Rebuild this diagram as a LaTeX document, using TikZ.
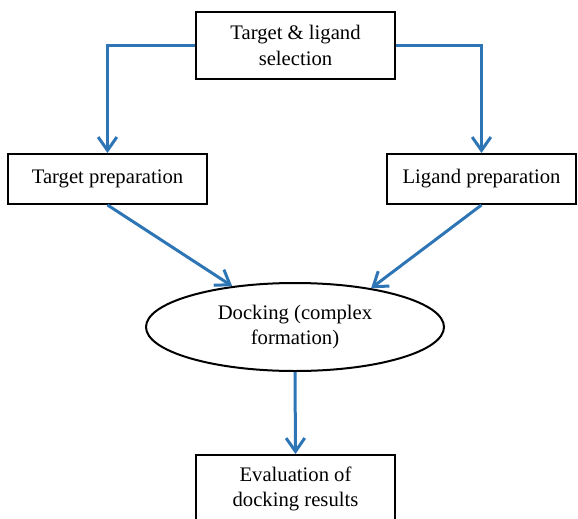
\documentclass[tikz,border=0pt]{standalone}
\usepackage{fontspec}
\setmainfont{Liberation Serif}
\usetikzlibrary{shapes.geometric,arrows.meta}
\definecolor{flowblue}{RGB}{46,117,182}

\begin{document}
\begin{tikzpicture}[x=0.75pt,y=-0.75pt,
  stagebox/.style={draw=black,line width=1.5pt,fill=white,inner sep=0pt,align=center,
    font=\fontsize{15.5}{19}\selectfont},
  dockellipse/.style={ellipse,draw=black,line width=1.5pt,fill=white,inner sep=0pt,align=center,
    minimum width=223.5pt,minimum height=66pt,font=\fontsize{15.5}{19}\selectfont},
  flow/.style={draw=flowblue,line width=2.25pt,-{Straight Barb[length=10pt,width=14pt]}}]
\useasboundingbox (0,0) rectangle (578,518);
\clip (0,0) rectangle (578,518);

\node[stagebox,minimum width=149.25pt,minimum height=50.25pt] (sel) at (295.5,45.5) {Target \& ligand\\selection};
\node[stagebox,minimum width=149.25pt,minimum height=37.5pt] (tprep) at (107.5,179) {Target preparation};
\node[stagebox,minimum width=141.75pt,minimum height=37.5pt] (lprep) at (481.5,179) {Ligand preparation};
\node[dockellipse] (dock) at (295,327) {Docking (complex\\formation)};
\node[stagebox,minimum width=149.25pt,minimum height=51pt] (eval) at (295.5,489) {Evaluation of\\docking results};

\draw[flow] (sel.west) -| (tprep.north);
\draw[flow] (sel.east) -| (lprep.north);
\draw[flow] (tprep.south) -- (dock);
\draw[flow] (lprep.south) -- (dock.27);
\draw[flow] (dock.south) -- (eval.north);
\end{tikzpicture}
\end{document}
